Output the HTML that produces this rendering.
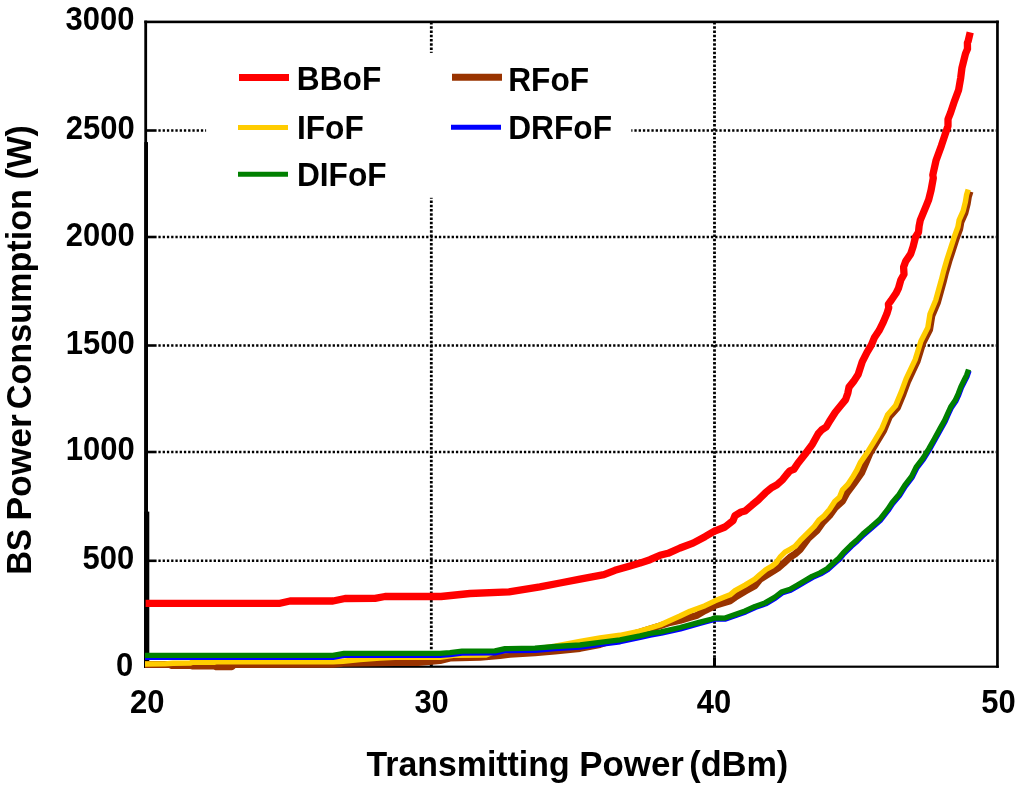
<!DOCTYPE html>
<html><head><meta charset="utf-8"><title>BS Power Consumption</title>
<style>
html,body{margin:0;padding:0;background:#fff;width:1024px;height:789px;overflow:hidden}
svg{display:block}
.t{font-family:"Liberation Sans",Arial,sans-serif;font-weight:bold;fill:#000}
</style></head><body>
<svg width="1024" height="789" viewBox="0 0 1024 789">
<rect width="1024" height="789" fill="#fff"/>
<g stroke="#000" stroke-width="2.6" stroke-dasharray="2.3 1.95" fill="none"><line x1="158.4" y1="130.5" x2="996" y2="130.5"/><line x1="158.4" y1="237.0" x2="996" y2="237.0"/><line x1="158.4" y1="345.5" x2="996" y2="345.5"/><line x1="158.4" y1="452.0" x2="996" y2="452.0"/><line x1="158.4" y1="560.8" x2="996" y2="560.8"/></g>
<g stroke="#000" stroke-width="2.8" stroke-dasharray="2.4 1.85" fill="none"><line x1="431.3" y1="22" x2="431.3" y2="657.2"/><line x1="714.5" y1="22" x2="714.5" y2="657.2"/></g>
<g stroke="#000" stroke-width="2.6"><line x1="146" y1="130.5" x2="156.6" y2="130.5"/><line x1="146" y1="237.0" x2="156.6" y2="237.0"/><line x1="146" y1="345.5" x2="156.6" y2="345.5"/><line x1="146" y1="452.0" x2="156.6" y2="452.0"/><line x1="146" y1="560.8" x2="156.6" y2="560.8"/></g>
<g stroke="#000" stroke-width="3"><line x1="431.3" y1="667" x2="431.3" y2="657.2"/><line x1="714.5" y1="667" x2="714.5" y2="657.2"/></g>
<rect x="206.1" y="52.9" width="425.2" height="144.9" fill="#fff"/>
<g fill="#000"><rect x="144.3" y="20.6" width="854.5" height="2.6"/><rect x="144.3" y="20.6" width="2.8" height="647.2"/><rect x="996.1" y="20.6" width="2.7" height="647.2"/><rect x="144.3" y="665.6" width="854.5" height="2.2"/><rect x="144.3" y="142.1" width="3.7" height="525.7"/><rect x="144.1" y="511.6" width="5.2" height="156.2"/></g>
<polyline points="145.6,603.3 280.0,603.3 290.0,601.0 333.0,601.0 345.0,598.5 375.0,598.3 385.0,596.5 441.0,596.5 470.0,593.5 509.0,591.9 540.0,586.9 560.0,583.0 580.0,579.1 604.0,574.6 615.0,570.3 630.0,565.9 640.0,563.1 650.0,559.7 660.0,555.3 668.0,553.3 680.0,548.0 693.0,543.1 705.0,536.7 714.0,531.4 725.0,527.0 733.0,520.6 735.0,515.6 741.1,512.0 745.1,511.0 752.2,504.9 758.3,499.9 765.4,492.8 771.5,487.7 776.6,485.1 782.7,479.6 786.7,474.5 789.8,470.9 793.8,469.4 797.9,463.3 805.0,454.2 812.5,444.1 818.2,433.8 821.7,429.9 826.2,427.0 830.2,420.2 835.3,412.2 841.0,405.3 845.6,399.6 847.9,392.8 849.0,387.1 853.6,381.4 858.1,374.6 862.2,361.9 867.0,352.3 871.3,345.1 874.3,337.8 879.1,330.6 883.3,322.2 886.9,313.7 888.7,307.7 888.4,304.1 891.1,300.5 896.0,293.3 898.4,288.4 900.8,280.0 904.0,274.3 903.6,267.1 905.8,261.1 910.7,253.9 913.1,246.6 915.5,237.0 918.5,232.2 919.1,226.1 920.3,220.1 923.3,212.9 926.3,205.7 928.7,199.6 931.1,190.0 933.3,178.0 932.8,175.0 936.0,160.6 941.3,145.9 945.3,133.9 948.0,126.0 948.0,119.3 950.6,112.6 954.6,100.7 958.6,90.0 960.7,77.8 961.9,68.2 965.5,53.7 967.5,48.9 967.4,42.8 968.1,41.3 970.2,32.4" fill="none" stroke="#ff0000" stroke-width="7.3" stroke-linejoin="round" stroke-linecap="butt"/>
<polyline points="145.0,664.4 170.0,664.5 172.0,665.5 191.0,665.5 193.0,666.0 214.0,666.0 216.0,666.7 232.0,666.7 234.0,664.6 333.0,664.3 343.0,663.2 360.0,662.9 395.0,662.6 418.0,662.4 440.0,660.5 450.0,658.1 480.0,657.3 500.0,655.5 510.0,654.2 535.0,652.8 555.0,651.1 580.0,648.4 600.0,644.5 620.0,638.0 640.0,632.0 661.0,625.5 670.0,622.5 680.0,620.4 690.0,617.3 697.0,615.3 705.0,610.5 715.0,605.5 725.0,602.4 730.0,600.8 735.0,597.3 745.0,591.2 755.0,585.6 760.0,579.4 766.0,575.6 772.0,571.8 778.0,568.0 784.0,562.9 790.0,557.2 795.0,554.0 800.0,549.6 808.3,538.4 817.4,530.1 822.7,522.5 829.5,515.6 835.6,507.3 842.5,501.2 847.0,492.8 853.9,483.7 861.5,473.0 870.0,453.2 876.9,441.8 883.7,430.4 889.4,416.7 897.4,407.6 903.1,393.9 907.9,380.9 917.0,361.6 922.7,343.3 929.6,329.6 931.8,316.0 937.5,302.3 943.2,281.8 945.5,272.7 948.9,261.0 952.3,250.7 956.3,238.2 959.7,229.0 960.9,222.2 964.9,213.1 967.2,203.9 968.3,197.1 970.0,191.4" fill="none" stroke="#993300" stroke-width="7" stroke-linejoin="round" stroke-linecap="butt"/>
<polyline points="145.0,664.0 165.0,663.9 173.0,663.2 190.0,663.1 192.0,662.4 214.0,662.3 216.0,661.8 333.0,661.9 343.0,661.2 360.0,659.5 380.0,658.0 395.0,657.2 440.0,657.3 455.0,655.2 486.0,655.0 496.0,651.0 540.0,648.5 555.0,646.2 580.0,641.3 600.0,638.0 620.0,635.3 640.0,631.1 660.0,625.0 680.0,616.0 690.0,611.2 705.0,605.7 715.0,600.8 725.0,596.8 730.0,594.8 735.0,590.7 745.0,585.1 755.0,579.0 760.0,574.5 766.0,569.5 772.0,566.1 776.0,562.9 780.0,557.2 785.0,552.1 790.0,549.3 795.0,546.4 800.0,540.7 808.3,532.4 814.3,526.3 818.9,520.2 823.5,516.4 829.5,509.5 834.9,501.2 839.4,497.4 842.5,489.8 847.8,484.4 852.4,477.6 856.9,470.0 860.3,462.6 868.2,451.2 875.1,439.8 881.9,428.4 887.6,414.7 895.6,405.6 901.3,391.9 906.1,378.9 915.2,359.6 920.9,341.3 927.8,327.6 930.0,314.0 935.7,300.3 941.4,279.8 943.7,270.7 947.1,259.0 950.5,248.7 954.5,236.2 957.9,227.0 959.1,220.2 963.1,211.1 965.4,201.9 966.5,195.1 968.2,189.4" fill="none" stroke="#ffcc00" stroke-width="5.4" stroke-linejoin="round" stroke-linecap="butt"/>
<polyline points="145.0,657.5 333.0,657.6 344.0,655.6 440.0,655.6 450.0,654.8 462.0,653.3 495.0,653.0 505.0,650.8 535.0,650.4 555.0,648.7 580.0,647.2 600.0,644.5 620.1,641.9 640.2,637.6 650.3,635.2 661.4,633.4 680.5,629.0 700.6,623.4 712.7,620.2 715.7,618.9 725.7,619.2 735.7,615.6 745.7,612.1 755.7,607.5 765.7,604.0 775.7,598.1 782.7,592.8 790.7,590.4 797.7,586.3 805.7,581.6 812.7,577.5 820.7,574.0 827.7,569.9 835.7,562.6 839.7,559.1 843.9,554.0 851.5,546.4 857.6,541.1 863.7,535.0 871.2,528.7 880.3,520.7 888.3,510.5 892.9,503.6 899.7,495.6 905.4,486.5 912.3,477.4 916.8,468.3 923.7,459.2 929.4,450.0 935.1,439.8 940.8,429.5 945.3,421.5 948.8,413.6 951.3,408.2 955.9,401.4 959.0,394.6 961.6,387.7 965.0,380.9 967.3,376.3 969.2,370.6" fill="none" stroke="#0000ff" stroke-width="5" stroke-linejoin="round" stroke-linecap="butt"/>
<polyline points="145.0,655.3 333.0,655.4 344.0,653.4 440.0,653.4 450.0,652.6 462.0,651.1 495.0,650.8 505.0,648.6 535.0,648.2 555.0,646.5 580.0,645.0 600.0,642.3 620.0,639.9 640.0,635.8 650.0,633.5 661.0,631.8 680.0,627.5 700.0,622.1 712.0,619.0 715.0,617.8 725.0,618.1 735.0,614.5 745.0,611.0 755.0,606.4 765.0,602.9 775.0,597.0 782.0,591.7 790.0,589.3 797.0,585.2 805.0,580.5 812.0,576.4 820.0,572.9 827.0,568.8 835.0,561.5 839.0,558.0 843.2,552.9 850.8,545.3 856.9,540.0 863.0,533.9 870.5,527.6 879.6,519.6 887.6,509.4 892.2,502.5 899.0,494.5 904.7,485.4 911.6,476.3 916.1,467.2 923.0,458.1 928.7,448.9 934.4,438.7 940.1,428.4 944.6,420.4 948.1,412.5 950.6,407.1 955.2,400.3 958.3,393.5 960.9,386.6 964.3,379.8 966.6,375.2 968.5,369.5" fill="none" stroke="#008000" stroke-width="5.3" stroke-linejoin="round" stroke-linecap="butt"/>
<line x1="239" y1="77.5" x2="289" y2="77.5" stroke="#ff0000" stroke-width="7"/>
<text transform="translate(296.84,90.20) scale(0.966,1)" font-size="32.8" class="t">BBoF</text>
<line x1="238" y1="127.5" x2="288" y2="127.5" stroke="#ffcc00" stroke-width="5"/>
<text transform="translate(296.94,138.60) scale(0.966,1)" font-size="32.8" class="t">IFoF</text>
<line x1="238" y1="174.3" x2="288" y2="174.3" stroke="#008000" stroke-width="5"/>
<text transform="translate(296.94,185.60) scale(0.966,1)" font-size="32.8" class="t">DIFoF</text>
<line x1="452" y1="77.3" x2="502" y2="77.3" stroke="#993300" stroke-width="7"/>
<text transform="translate(508.24,90.50) scale(0.966,1)" font-size="32.8" class="t">RFoF</text>
<line x1="451" y1="127.3" x2="501" y2="127.3" stroke="#0000ff" stroke-width="5"/>
<text transform="translate(508.24,138.60) scale(0.966,1)" font-size="32.8" class="t">DRFoF</text>
<text transform="translate(65.53,29.95) scale(0.95,1)" font-size="32.6" class="t">3000</text>
<text transform="translate(65.73,138.50) scale(0.95,1)" font-size="32.6" class="t">2500</text>
<text transform="translate(65.73,245.90) scale(0.95,1)" font-size="32.6" class="t">2000</text>
<text transform="translate(65.73,353.80) scale(0.95,1)" font-size="32.6" class="t">1500</text>
<text transform="translate(65.73,460.20) scale(0.95,1)" font-size="32.6" class="t">1000</text>
<text transform="translate(82.52,568.80) scale(0.95,1)" font-size="32.6" class="t">500</text>
<text transform="translate(115.95,676.30) scale(0.95,1)" font-size="32.6" class="t">0</text>
<text transform="translate(130.04,712.80) scale(0.95,1)" font-size="32.6" class="t">20</text>
<text transform="translate(414.39,712.80) scale(0.95,1)" font-size="32.6" class="t">30</text>
<text transform="translate(696.75,712.80) scale(0.95,1)" font-size="32.6" class="t">40</text>
<text transform="translate(981.27,712.80) scale(0.95,1)" font-size="32.6" class="t">50</text>
<text transform="translate(366.46,775.90) scale(0.9424,1)" font-size="35.94" class="t">Transmitting</text>
<text transform="translate(579.13,775.90) scale(0.9719,1)" font-size="35.94" class="t">Power</text>
<text transform="translate(689.28,775.90) scale(0.9543,1)" font-size="35.94" class="t">(dBm)</text>
<text transform="translate(30.50,574.83) rotate(-90) scale(0.9325,1)" font-size="35.22" class="t">BS</text>
<text transform="translate(30.50,520.60) rotate(-90) scale(1.0065,1)" font-size="35.22" class="t">Power</text>
<text transform="translate(30.50,409.27) rotate(-90) scale(0.9705,1)" font-size="35.22" class="t">Consumption</text>
<text transform="translate(30.50,179.59) rotate(-90) scale(0.9609,1)" font-size="35.22" class="t">(W)</text>
</svg>
</body></html>
